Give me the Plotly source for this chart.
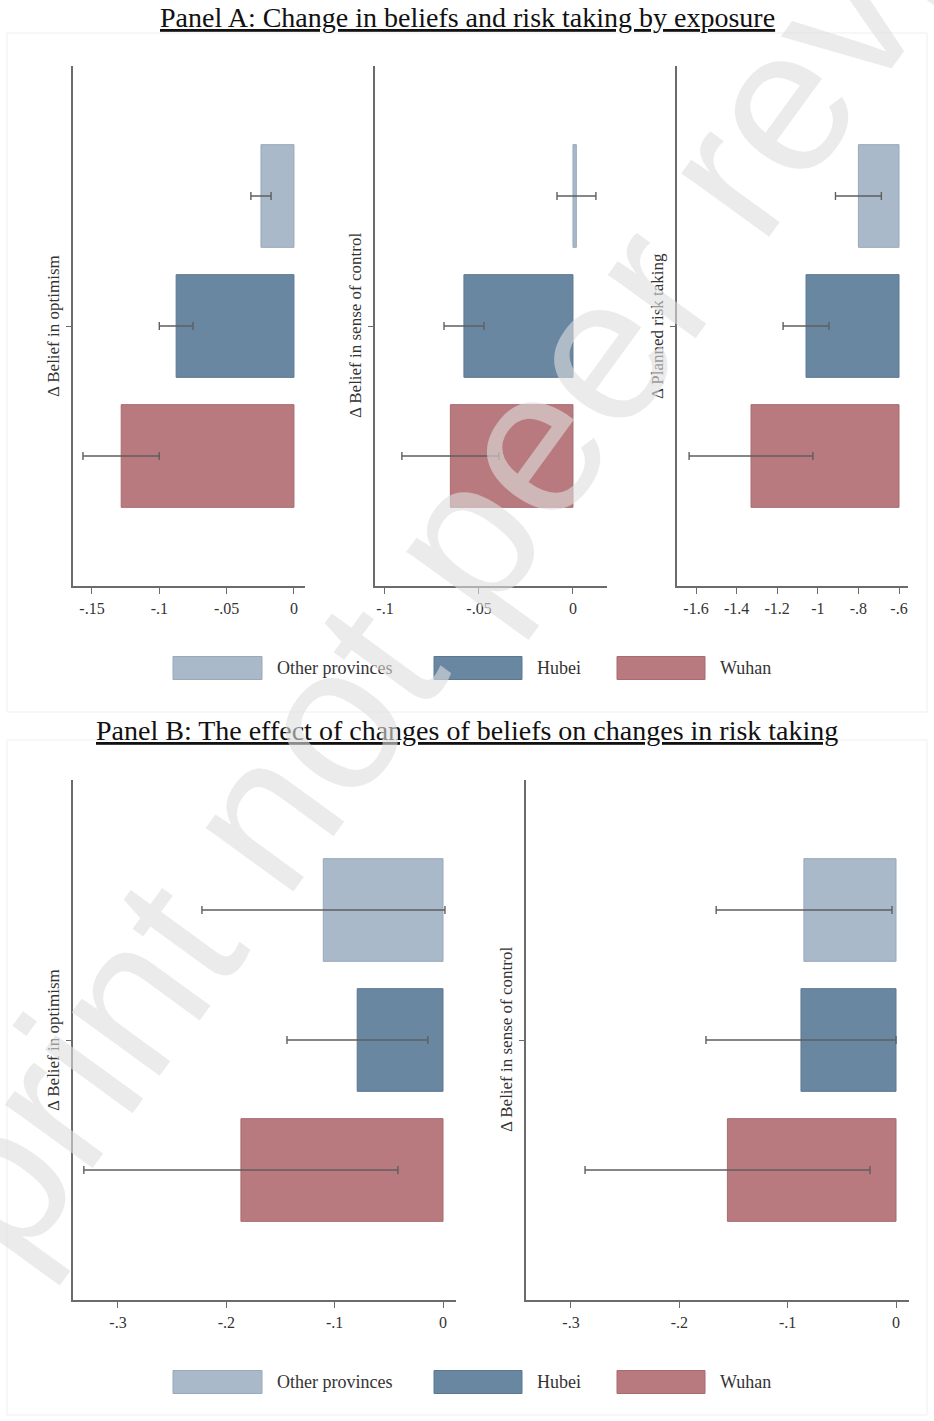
import plotly.graph_objects as go

W, H = 934, 1421

groups = ["Other provinces", "Hubei", "Wuhan"]
fill_colors = ["#a9b9c9", "#6a87a2", "#b87a7e"]
edge_colors = ["#98a9ba", "#5b7893", "#a86b6f"]

# Panel A: change in beliefs and risk taking by exposure (mean, 95% CI)
optimism_a = [-0.0245, -0.0875, -0.1283]
optimism_a_lo = [-0.0320, -0.1000, -0.1567]
optimism_a_hi = [-0.0170, -0.0750, -0.1000]

control_a = [0.0018, -0.0580, -0.0652]
control_a_lo = [-0.0085, -0.0686, -0.0910]
control_a_hi = [0.0122, -0.0473, -0.0394]

risk_a = [-0.800, -1.058, -1.329]
risk_a_lo = [-0.913, -1.171, -1.634]
risk_a_hi = [-0.687, -0.945, -1.024]
risk_base = -0.6

# Panel B: effect of changes of beliefs on changes in risk taking
optimism_b = [-0.1105, -0.0792, -0.1865]
optimism_b_lo = [-0.2225, -0.1440, -0.3315]
optimism_b_hi = [0.0018, -0.0139, -0.0416]

control_b = [-0.0850, -0.0877, -0.1556]
control_b_lo = [-0.1660, -0.1754, -0.2870]
control_b_hi = [-0.0037, 0.0000, -0.0240]

ticks_a1 = [-0.15, -0.1, -0.05, 0]
ticks_a1_text = ["-.15", "-.1", "-.05", "0"]
ticks_a2 = [-0.1, -0.05, 0]
ticks_a2_text = ["-.1", "-.05", "0"]
ticks_a3 = [-1.6, -1.4, -1.2, -1.0, -0.8, -0.6]
ticks_a3_text = ["-1.6", "-1.4", "-1.2", "-1", "-.8", "-.6"]
ticks_b = [-0.3, -0.2, -0.1, 0]
ticks_b_text = ["-.3", "-.2", "-.1", "0"]

title_a = "Panel A: Change in beliefs and risk taking by exposure"
title_b = "Panel B: The effect of changes of beliefs on changes in risk taking"
ytitle_opt = "Δ Belief in optimism"
ytitle_ctrl = "Δ Belief in sense of control"
ytitle_risk = "Δ Planned risk taking"
watermark = "Preprint not peer reviewed"

SERIF = "Liberation Serif"
AXIS_COLOR = "#6b6b6b"
ERR_COLOR = "#5f5f5f"


def px(x):
    return x / W


def py(y):
    return 1 - y / H


# (axis suffix, x pixel span, y pixel span, x range, ticks, labels, title, title x, values, lo, hi, base)
panels = [
    ("", (73, 305), (66, 586), (-0.1641, 0.0082), ticks_a1, ticks_a1_text,
     ytitle_opt, 53, optimism_a, optimism_a_lo, optimism_a_hi, 0),
    ("2", (375, 607), (66, 586), (-0.1053, 0.0181), ticks_a2, ticks_a2_text,
     ytitle_ctrl, 355, control_a, control_a_lo, control_a_hi, 0),
    ("3", (677, 908), (66, 586), (-1.6936, -0.5557), ticks_a3, ticks_a3_text,
     ytitle_risk, 657, risk_a, risk_a_lo, risk_a_hi, risk_base),
    ("4", (73, 456), (780, 1300), (-0.3415, 0.0120), ticks_b, ticks_b_text,
     ytitle_opt, 53, optimism_b, optimism_b_lo, optimism_b_hi, 0),
    ("5", (526, 909), (780, 1300), (-0.3415, 0.0120), ticks_b, ticks_b_text,
     ytitle_ctrl, 506, control_b, control_b_lo, control_b_hi, 0),
]

fig = go.Figure()
layout = {}
annotations = []
shapes = []

for (sfx, xspan, yspan, xr, tv, tt, ytitle, ytx, vals, lo, hi, base) in panels:
    xa, ya = "x" + sfx, "y" + sfx
    for g, col, edge, v in zip(groups, fill_colors, edge_colors, vals):
        fig.add_trace(go.Bar(
            x=[v - base], y=[g], base=[base], orientation="h",
            marker=dict(color=col, line=dict(color=edge, width=1)),
            width=0.79, xaxis=xa, yaxis=ya, showlegend=False,
        ))
    fig.add_trace(go.Scatter(
        x=vals, y=groups, mode="markers",
        marker=dict(size=1, color="rgba(0,0,0,0)"),
        error_x=dict(type="data", symmetric=False,
                     array=[h - v for h, v in zip(hi, vals)],
                     arrayminus=[v - l for l, v in zip(lo, vals)],
                     color=ERR_COLOR, thickness=1.4, width=4),
        xaxis=xa, yaxis=ya, showlegend=False,
    ))
    layout["xaxis" + sfx] = dict(
        domain=[px(xspan[0]), px(xspan[1])], range=list(xr), anchor=ya,
        showline=True, linecolor=AXIS_COLOR, linewidth=1.5,
        ticks="outside", ticklen=6, tickcolor=AXIS_COLOR, tickwidth=1,
        tickvals=tv, ticktext=tt, ticklabelstandoff=1,
        tickfont=dict(family=SERIF, size=16, color="#333333"),
        showgrid=False, zeroline=False, fixedrange=True,
    )
    layout["yaxis" + sfx] = dict(
        domain=[py(yspan[1]), py(yspan[0])], range=[-1, 3], anchor=xa,
        type="category", categoryorder="array", categoryarray=groups[::-1],
        showline=True, linecolor=AXIS_COLOR, linewidth=1.5,
        ticks="outside", ticklen=5, tickcolor=AXIS_COLOR, tickwidth=1,
        tickvals=["Hubei"], ticktext=[""],
        showgrid=False, zeroline=False, fixedrange=True,
    )
    annotations.append(dict(
        text=ytitle, x=px(ytx), y=py((yspan[0] + yspan[1]) / 2),
        xref="paper", yref="paper", showarrow=False, textangle=-90,
        xanchor="center", yanchor="middle",
        font=dict(family=SERIF, size=17, color="#333333"),
    ))

# Panel titles
for text, yc in [(title_a, 17), (title_b, 731)]:
    annotations.append(dict(
        text="<u>" + text + "</u>", x=0.5, y=py(yc), xref="paper", yref="paper",
        showarrow=False, xanchor="center", yanchor="middle",
        font=dict(family=SERIF, size=28, color="#111111"),
    ))

# Faint graph-region frames
for y0, y1 in [(33, 712), (740, 1415)]:
    shapes.append(dict(type="rect", xref="paper", yref="paper",
                       x0=px(7), x1=px(927), y0=py(y1), y1=py(y0),
                       line=dict(color="#efefef", width=1), layer="below"))

# Legends under each panel
swatch_x = [(173, 262), (434, 522), (617, 705)]
for yc in [668, 1382]:
    for (x0, x1), g, col, edge in zip(swatch_x, groups, fill_colors, edge_colors):
        shapes.append(dict(type="rect", xref="paper", yref="paper",
                           x0=px(x0), x1=px(x1), y0=py(yc + 11.5), y1=py(yc - 11.5),
                           fillcolor=col, line=dict(color=edge, width=1)))
        annotations.append(dict(
            text=g, x=px(x1 + 13), y=py(yc), xref="paper", yref="paper",
            showarrow=False, xanchor="left", yanchor="middle",
            font=dict(family=SERIF, size=18, color="#333333"),
        ))

# Diagonal watermark across the page
annotations.append(dict(
    text=watermark, x=px(478), y=py(515), xref="paper", yref="paper",
    showarrow=False, textangle=-54, xanchor="center", yanchor="middle",
    font=dict(family="Liberation Sans", size=205, color="rgba(222,222,222,0.6)"),
))

fig.update_layout(
    width=W, height=H, margin=dict(l=0, r=0, t=0, b=0),
    paper_bgcolor="white", plot_bgcolor="white",
    barmode="overlay", annotations=annotations, shapes=shapes,
    **layout,
)

fig.write_html("out.html")
